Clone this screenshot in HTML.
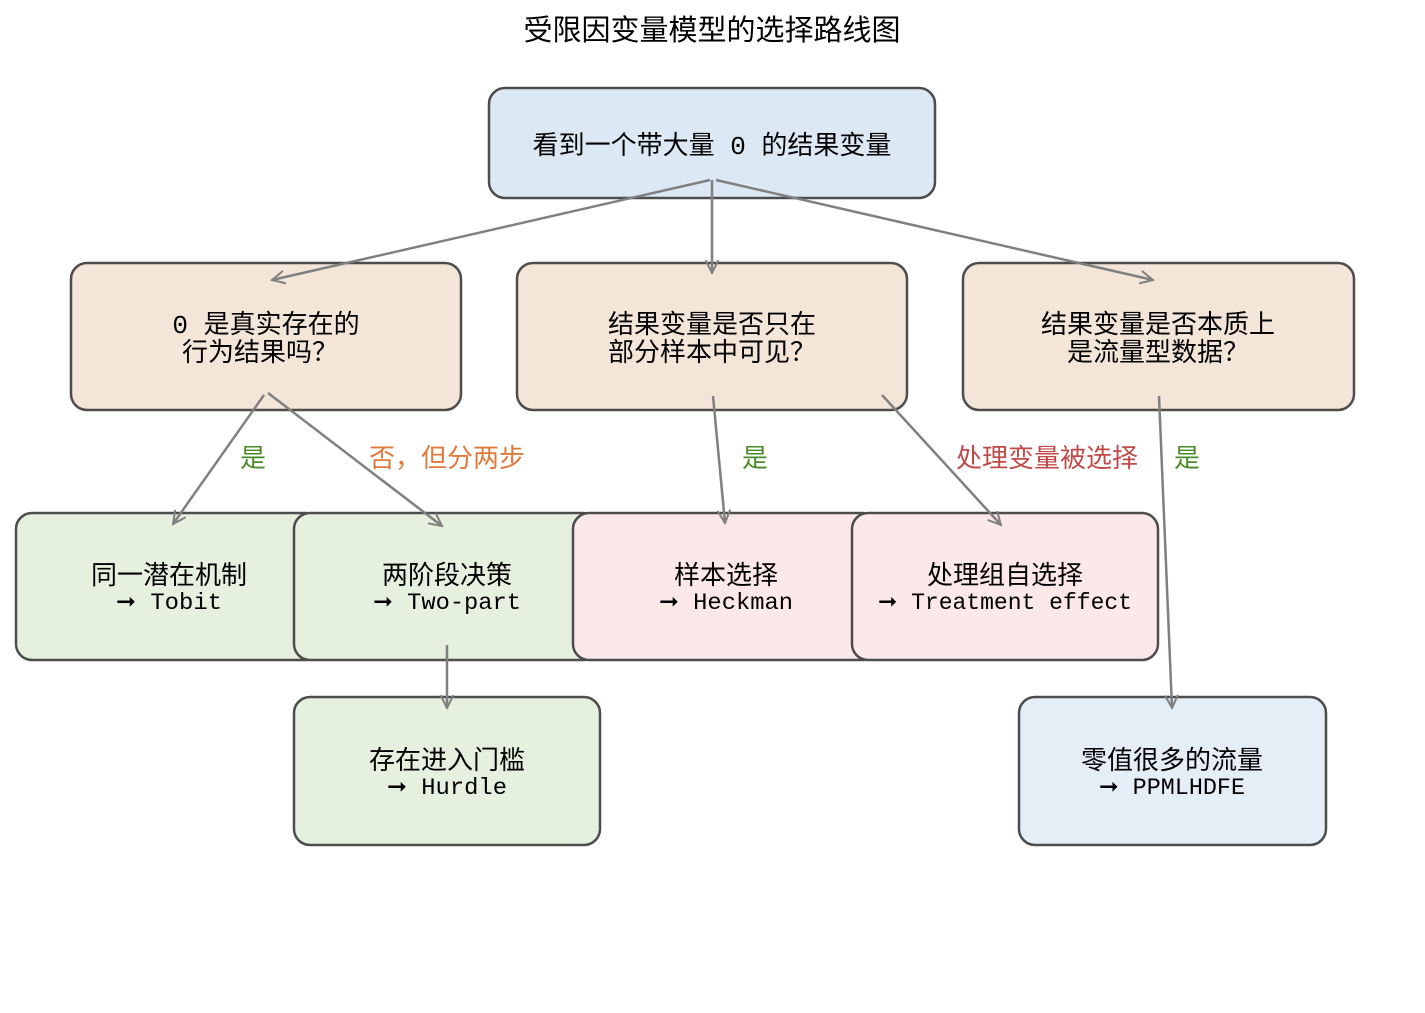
<!DOCTYPE html>
<html><head><meta charset="utf-8"><style>
html,body{margin:0;padding:0;background:#fff;}
svg text{font-family:"Liberation Mono","WenQuanYi Zen Hei","Noto Sans CJK SC",monospace;}
</style></head><body>
<svg width="1425" height="1008" viewBox="0 0 1425 1008" xmlns="http://www.w3.org/2000/svg">
<defs>
<marker id="a" viewBox="0 0 20 20" refX="18" refY="10" markerWidth="16" markerHeight="16" markerUnits="userSpaceOnUse" orient="auto">
<path d="M2,2 L18,10 L2,18" fill="none" stroke="#808080" stroke-width="2.5"/>
</marker>
</defs>
<text x="712" y="40" font-size="29" text-anchor="middle" fill="#000">受限因变量模型的选择路线图</text>
<g stroke="#4d4d4d" stroke-width="2.5">
<rect x="489" y="88" width="446" height="110" rx="16" fill="#dce9f5"/>
<rect x="71" y="263" width="390" height="147" rx="16" fill="#f3e5d8"/>
<rect x="517" y="263" width="390" height="147" rx="16" fill="#f3e5d8"/>
<rect x="963" y="263" width="391" height="147" rx="16" fill="#f3e5d8"/>
<rect x="16" y="513" width="306" height="147" rx="16" fill="#e6f0df"/>
<rect x="294" y="513" width="306" height="147" rx="16" fill="#e6f0df"/>
<rect x="573" y="513" width="306" height="147" rx="16" fill="#fce8e8"/>
<rect x="852" y="513" width="306" height="147" rx="16" fill="#fce8e8"/>
<rect x="294" y="697" width="306" height="148" rx="16" fill="#e6f0df"/>
<rect x="1019" y="697" width="307" height="148" rx="16" fill="#e5edf7"/>
</g>
<g stroke="#808080" stroke-width="2.5" fill="none" marker-end="url(#a)">
<line x1="710" y1="180" x2="272" y2="280"/>
<line x1="712" y1="180" x2="712" y2="273"/>
<line x1="716" y1="180" x2="1153" y2="280"/>
<line x1="264" y1="395" x2="173" y2="524"/>
<line x1="268" y1="393" x2="442" y2="526"/>
<line x1="713" y1="396" x2="725" y2="523"/>
<line x1="882" y1="395" x2="1001" y2="525"/>
<line x1="1159" y1="396" x2="1172" y2="708"/>
<line x1="447" y1="645" x2="447" y2="708"/>
</g>
<g font-size="26" text-anchor="middle" fill="#000">
<text x="712" y="154">看到一个带大量 0 的结果变量</text>
<text x="266" y="333">0 是真实存在的</text>
<text x="260" y="361">行为结果吗？</text>
<text x="712" y="333">结果变量是否只在</text>
<text x="712" y="361">部分样本中可见？</text>
<text x="1158" y="333">结果变量是否本质上</text>
<text x="1158" y="361">是流量型数据？</text>
<text x="169" y="584">同一潜在机制</text>
<text x="447" y="584">两阶段决策</text>
<text x="726" y="584">样本选择</text>
<text x="1005" y="584">处理组自选择</text>
<text x="447" y="769">存在进入门槛</text>
<text x="1172" y="769">零值很多的流量</text>
</g>
<g font-size="23" text-anchor="middle" fill="#000">
<text x="169" y="609" textLength="106" lengthAdjust="spacingAndGlyphs">➞ Tobit</text>
<text x="447" y="609" textLength="148" lengthAdjust="spacingAndGlyphs">➞ Two-part</text>
<text x="726" y="609" textLength="134" lengthAdjust="spacingAndGlyphs">➞ Heckman</text>
<text x="1005" y="609" textLength="254" lengthAdjust="spacingAndGlyphs">➞ Treatment effect</text>
<text x="447" y="794" textLength="120" lengthAdjust="spacingAndGlyphs">➞ Hurdle</text>
<text x="1172" y="794" textLength="146" lengthAdjust="spacingAndGlyphs">➞ PPMLHDFE</text>
</g>
<g font-size="26" text-anchor="middle">
<text x="253" y="467" fill="#4a8a2a">是</text>
<text x="447" y="467" fill="#e07a3c">否，但分两步</text>
<text x="755" y="467" fill="#4a8a2a">是</text>
<text x="1047" y="467" fill="#c04a48">处理变量被选择</text>
<text x="1187" y="467" fill="#4a8a2a">是</text>
</g>
</svg>
</body></html>
